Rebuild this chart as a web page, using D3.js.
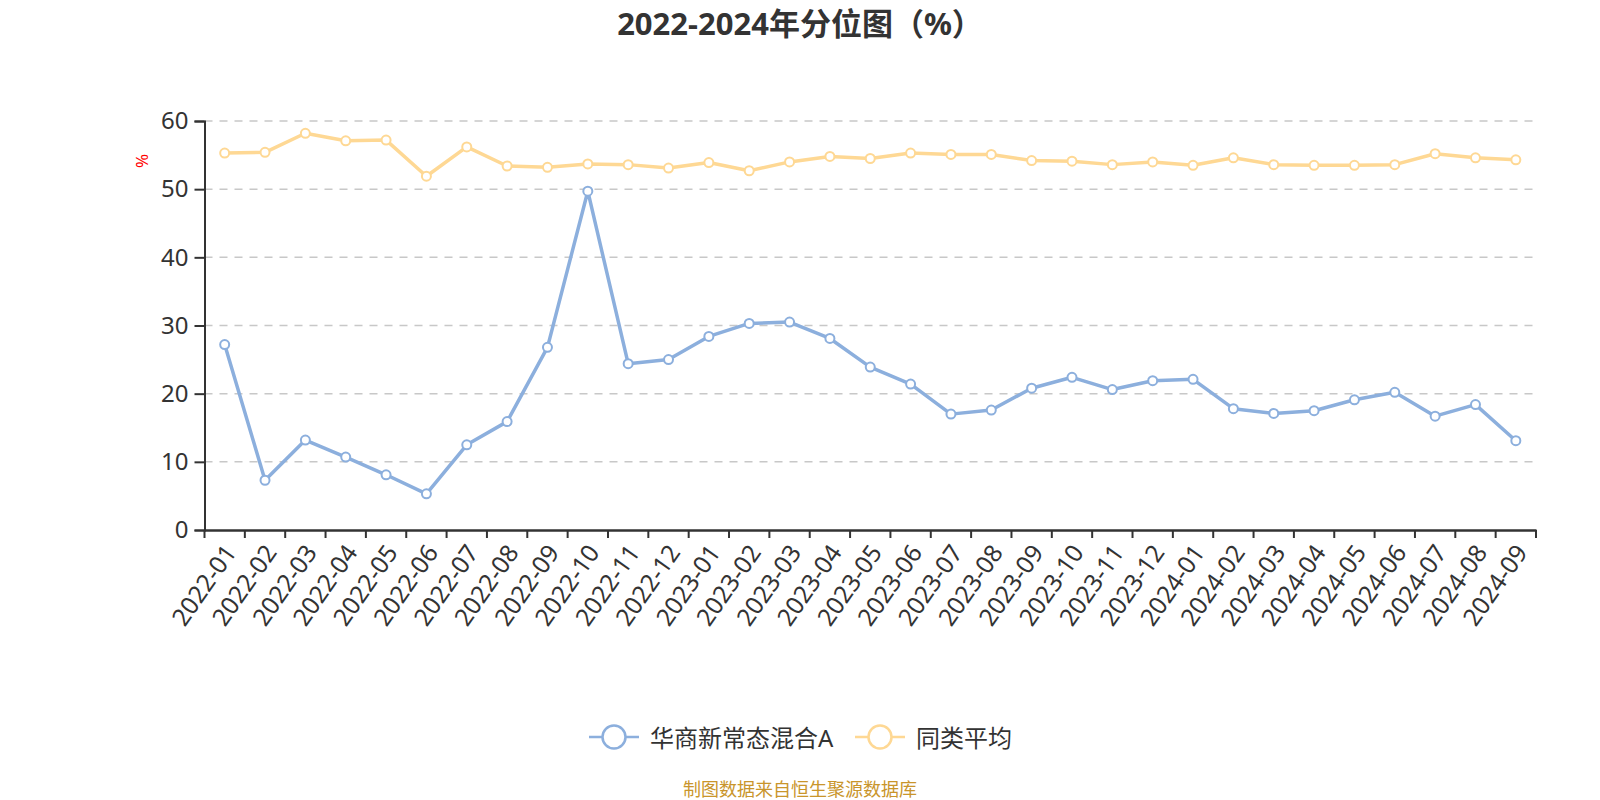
<!DOCTYPE html>
<html>
<head>
<meta charset="utf-8">
<script src="https://cdn.jsdelivr.net/npm/d3@7"></script>
<style>
  html, body { margin: 0; padding: 0; background: #fff; }
  svg { display: block; }
  text { font-family: "Noto Sans", "Noto Sans CJK SC", sans-serif; }
</style>
</head>
<body>
<div id="chart"></div>
<script>
const categories = ["2022-01","2022-02","2022-03","2022-04","2022-05","2022-06","2022-07","2022-08","2022-09","2022-10","2022-11","2022-12",
  "2023-01","2023-02","2023-03","2023-04","2023-05","2023-06","2023-07","2023-08","2023-09","2023-10","2023-11","2023-12",
  "2024-01","2024-02","2024-03","2024-04","2024-05","2024-06","2024-07","2024-08","2024-09"];
const fundValues = [27.2, 7.3, 13.2, 10.7, 8.1, 5.3, 12.5, 15.9, 26.8, 49.7, 24.4, 25.0,
  28.4, 30.3, 30.5, 28.1, 23.9, 21.4, 17.0, 17.6, 20.8, 22.4, 20.6, 21.9,
  22.1, 17.8, 17.1, 17.5, 19.1, 20.2, 16.7, 18.4, 13.1];
const avgValues = [55.3, 55.4, 58.2, 57.1, 57.2, 51.9, 56.2, 53.4, 53.2, 53.7, 53.6, 53.1,
  53.9, 52.7, 54.0, 54.8, 54.5, 55.3, 55.1, 55.1, 54.2, 54.1, 53.6, 54.0,
  53.5, 54.6, 53.6, 53.5, 53.5, 53.6, 55.2, 54.6, 54.3];
const yTicks = [0, 10, 20, 30, 40, 50, 60];
const seriesNames = ["华商新常态混合A", "同类平均"];
const seriesColors = ["#8cafdd", "#fed894"];
const titleText = "2022-2024年分位图（%）";
const footerText = "制图数据来自恒生聚源数据库";

(function () {
const W = 1600, H = 800;
const pLeft = 204.5, pRight = 1536, pTop = 121, pBottom = 530;

const svg = d3.select("#chart").append("svg").attr("width", W).attr("height", H);

const x = d3.scaleBand().domain(categories).range([pLeft, pRight]);
const y = d3.scaleLinear().domain([0, 60]).range([pBottom, pTop]);

// title
svg.append("text").attr("x", 800).attr("y", 23).attr("text-anchor", "middle")
  .attr("dominant-baseline", "central").attr("font-size", 31).attr("font-weight", "bold")
  .attr("font-family", "\"Noto Sans CJK SC\", sans-serif")
  .attr("fill", "#333").text(titleText);

// grid lines
svg.append("g").selectAll("line").data(yTicks.filter(d => d > 0)).join("line")
  .attr("x1", pLeft).attr("x2", pRight).attr("y1", d => y(d)).attr("y2", d => y(d))
  .attr("stroke", "#c8c8c8").attr("stroke-width", 1.5).attr("stroke-dasharray", "8,7");

// y axis
const yAxis = svg.append("g").attr("transform", `translate(${pLeft},0)`)
  .call(d3.axisLeft(y).tickValues(yTicks).tickSize(10).tickPadding(6).tickFormat(d3.format("d")));
yAxis.select(".domain").attr("stroke", "#333").attr("stroke-width", 2);
yAxis.selectAll(".tick line").attr("stroke", "#333").attr("stroke-width", 2);
yAxis.selectAll(".tick text").attr("font-size", 24).attr("fill", "#333")
  .attr("font-family", "\"Noto Sans\", sans-serif");

// y axis unit label
svg.append("text").attr("transform", "translate(141,161) rotate(-90)")
  .attr("text-anchor", "middle").attr("dominant-baseline", "central")
  .attr("font-size", 17).attr("fill", "#ff0000").text("%");

// x axis
const xAxis = svg.append("g").attr("transform", `translate(0,${pBottom})`)
  .call(d3.axisBottom(x).tickSize(0).tickPadding(0));
xAxis.select(".domain").attr("stroke", "#333").attr("stroke-width", 2.5);
xAxis.selectAll(".tick line").remove();
xAxis.selectAll(".tick text")
  .attr("font-size", 24.5).attr("fill", "#333")
  .attr("text-anchor", "end").attr("dy", null).attr("y", 0)
  .attr("dominant-baseline", "central")
  .attr("transform", "translate(5,17) rotate(-55)");
// boundary ticks
const bounds = categories.map(c => x(c)).concat([pRight]);
svg.append("g").selectAll("line").data(bounds).join("line")
  .attr("x1", d => d).attr("x2", d => d).attr("y1", pBottom).attr("y2", pBottom + 8)
  .attr("stroke", "#333").attr("stroke-width", 2);

const cx = c => x(c) + x.bandwidth() / 2;
const line = d3.line().x((d, i) => cx(categories[i])).y(d => y(d));

[avgValues, fundValues].forEach((vals, k) => {
  const color = k === 0 ? seriesColors[1] : seriesColors[0];
  svg.append("path").datum(vals).attr("d", line).attr("fill", "none")
    .attr("stroke", color).attr("stroke-width", 3.5).attr("stroke-linejoin", "round");
  svg.append("g").selectAll("circle").data(vals).join("circle")
    .attr("cx", (d, i) => cx(categories[i])).attr("cy", d => y(d)).attr("r", 4.5)
    .attr("fill", "#fff").attr("stroke", color).attr("stroke-width", 2);
});

// legend
const legendItems = [
  {name: seriesNames[0], color: seriesColors[0], x0: 589},
  {name: seriesNames[1], color: seriesColors[1], x0: 855}
];
const ly = 737;
legendItems.forEach(it => {
  const g = svg.append("g");
  g.append("line").attr("x1", it.x0).attr("x2", it.x0 + 50).attr("y1", ly).attr("y2", ly)
    .attr("stroke", it.color).attr("stroke-width", 2.5);
  g.append("circle").attr("cx", it.x0 + 25).attr("cy", ly).attr("r", 11.5)
    .attr("fill", "#fff").attr("stroke", it.color).attr("stroke-width", 2.5);
  g.append("text").attr("x", it.x0 + 61).attr("y", ly).attr("dominant-baseline", "central")
    .attr("font-size", 24).attr("fill", "#333").text(it.name);
});

// footer
svg.append("text").attr("x", 800).attr("y", 789).attr("text-anchor", "middle")
  .attr("dominant-baseline", "central").attr("font-size", 18).attr("fill", "#c9952b")
  .text(footerText);
})();
</script>
</body>
</html>
